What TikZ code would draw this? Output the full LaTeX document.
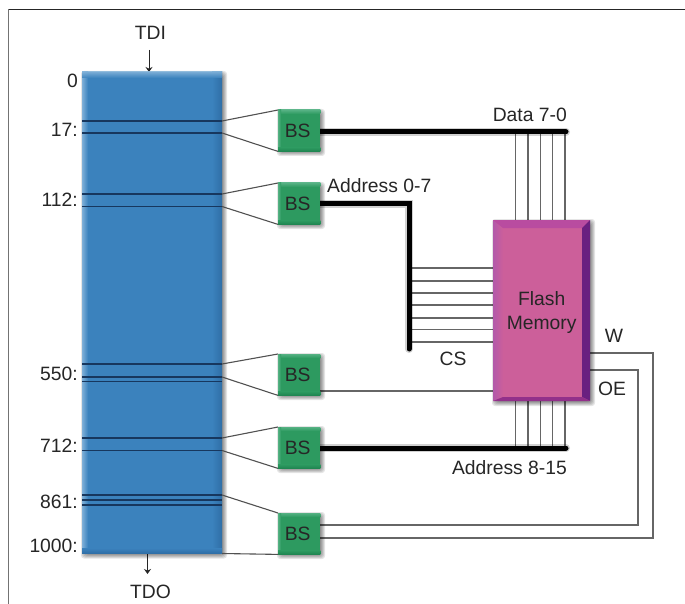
\documentclass[tikz,border=0pt]{standalone}
\usepackage{fontspec}
\setmainfont{Liberation Sans}
\usetikzlibrary{arrows.meta,calc}
\pgfdeclarelayer{front}
\pgfdeclarelayer{top}
\pgfsetlayers{main,front,top}
\definecolor{ink}{HTML}{262626}
\definecolor{wire}{HTML}{666666}
\definecolor{regblue}{HTML}{3B82BD}
\definecolor{regdark}{HTML}{2F6EA6}
\definecolor{reglight}{HTML}{7FB0D8}
\definecolor{stripeblue}{HTML}{17375E}
\definecolor{bsgreen}{HTML}{2D9A60}
\definecolor{bslight}{HTML}{55B183}
\definecolor{bsdark}{HTML}{1F8550}
\definecolor{flashpink}{HTML}{CC5F9A}
\definecolor{flashleft}{HTML}{B25AAA}
\definecolor{flashtop}{HTML}{B94CA0}
\definecolor{flashright}{HTML}{6A2080}
\definecolor{flashbot}{HTML}{92308A}
\newcommand{\softshadow}[4]{%
  \foreach \k in {0,1,2,3,4,5}{%
    \fill[black,opacity=.1,rounded corners=3pt]
      ({#1+4-\k},{#2+4-\k}) rectangle ({#3+\k},{#4+\k});
  }}
\tikzset{
  lbl/.style={inner sep=0pt,text=ink,font=\fontsize{19.3}{24}\selectfont},
  thinwire/.style={draw=wire,line width=1.3pt},
  fan/.style={draw=ink!80,line width=1.1pt},
  stripe/.style={draw=stripeblue,line width=1.3pt},
  busline/.style={draw=black,line width=5pt,line cap=round,line join=miter},
  busglow/.style={draw=black,opacity=.18,line width=8pt,line cap=round,line join=miter},
  flowarrow/.style={draw=ink,line width=1pt,-{Stealth[length=5pt,width=7pt]}},
  bsbox/.style={rectangle,fill=bsgreen,inner sep=0pt,minimum width=42pt,minimum height=41pt,anchor=north west},
}
\begin{document}
\begin{tikzpicture}[x=1pt,y=-1pt]
\useasboundingbox (0,0) rectangle (685,604);
\fill[white] (0,0) rectangle (685,604);
% frame
\draw[ink,line width=1pt] (8.5,9.5) -- (685,9.5);
\draw[gray!90!black,line width=1pt] (8.5,9.5) -- (8.5,604);

\begin{pgfonlayer}{front}
% register
\softshadow{82}{72}{222}{553.5}
\node[rectangle,fill=regblue,inner sep=0pt,minimum width=140pt,minimum height=481.5pt,anchor=north west] (reg) at (82,72) {};
\shade[left color=reglight,right color=regblue] (82,72) rectangle (88,553.5);
\shade[left color=regblue,right color=regdark] (212,72) rectangle (222,553.5);
\shade[top color=reglight,bottom color=regblue,opacity=.9] (82,72) rectangle (222,78);
\shade[top color=regblue,bottom color=regdark] (82,548) rectangle (222,553.5);
% BS cells
\foreach \nm/\yy in {bs1/110,bs2/183,bs3/354,bs4/427,bs5/513}{
  \softshadow{278}{\yy}{320}{\yy+41}
  \node[bsbox] (\nm) at (278,\yy) {};
}
% flash
\softshadow{493}{220}{590}{401}
\node[rectangle,fill=flashpink,inner sep=0pt,minimum width=97pt,minimum height=181pt,anchor=north west] (flash) at (493,220) {};
\shade[left color=flashleft,right color=flashpink] (493,220) -- (503,228) -- (503,397) -- (493,401) -- cycle;
\fill[flashtop] (493,220) -- (590,220) -- (582,228) -- (503,228) -- cycle;
\fill[flashright] (590,220) -- (590,401) -- (582,397) -- (582,228) -- cycle;
\fill[flashbot] (493,401) -- (590,401) -- (582,397) -- (503,397) -- cycle;
\node[lbl,align=center] (flashtext) at ($(flash.center)+(0,1.5)$) {Flash\\Memory};
\foreach \nm in {bs1,bs2,bs3,bs4,bs5}{
  \shade[top color=bslight,bottom color=bsgreen] (\nm.north west) rectangle ($(\nm.north east)+(0,4)$);
  \shade[left color=bslight,right color=bsgreen] (\nm.north west) rectangle ($(\nm.south west)+(3,0)$);
  \shade[top color=bsgreen,bottom color=bsdark] ($(\nm.south west)+(0,-4)$) rectangle (\nm.south east);
  \node[lbl] (\nm text) at ($(\nm.center)+(-1.5,0.5)$) {BS};
}
\end{pgfonlayer}

% stripe end points on the register's right edge
\coordinate (s1a) at (222,121);   \coordinate (s1b) at (222,133);
\coordinate (s2a) at (222,194);   \coordinate (s2b) at (222,206.5);
\coordinate (s3a) at (222,364);   \coordinate (s3b) at (222,377);  \coordinate (s3c) at (222,381.5);
\coordinate (s4a) at (222,438);   \coordinate (s4b) at (222,450.5);
\coordinate (s5a) at (222,495);   \coordinate (s5b) at (222,500);  \coordinate (s5c) at (222,505);
\coordinate (s5d) at (222,553.5);

\begin{pgfonlayer}{top}
\foreach \c in {s1a,s1b,s2a,s2b,s3a,s3b,s3c,s4a,s4b,s5a,s5b,s5c}{
  \draw[stripe] (\c -| reg.west) -- (\c);
}
\draw[fan] (s1a) -- (bs1.north west);
\draw[fan] (s1b) -- (bs1.south west);
\draw[fan] (s2a) -- (bs2.north west);
\draw[fan] (s2b) -- (bs2.south west);
\draw[fan] (s3a) -- (bs3.north west);
\draw[fan] (s3b) -- (bs3.south west);
\draw[fan] (s4a) -- (bs4.north west);
\draw[fan] (s4b) -- (bs4.south west);
\draw[fan] (s5a) -- (bs5.north west);
\draw[fan] (s5d) -- (bs5.south west);
\end{pgfonlayer}

% data and address buses
\coordinate (dataend) at (566,132);
\coordinate (addrcorner) at (409,204);
\coordinate (addrend) at (409,349);
\coordinate (hiend) at (566,448);
\foreach \i/\xx in {1/515.7,2/528,3/540.3,4/552.5,5/565}{
  \coordinate (d\i) at (\xx,132);
  \coordinate (e\i) at (\xx,448);
  \draw[thinwire] (d\i) -- (d\i |- flash.north);
  \draw[thinwire] (e\i) -- (e\i |- flash.south);
}
\foreach \i/\yy in {1/268,2/281,3/293,4/305,5/318,6/329.5,7/342}{
  \coordinate (a\i) at (409,\yy);
  \draw[thinwire] (a\i) -- (a\i -| flash.west);
}
\draw[busglow] (dataend -| bs1.east) -- (dataend);
\draw[busglow] (addrcorner -| bs2.east) -- (addrcorner) -- (addrend);
\draw[busglow] (hiend -| bs4.east) -- (hiend);
\draw[busline] (dataend -| bs1.east) -- (dataend);
\draw[busline] (addrcorner -| bs2.east) -- (addrcorner) -- (addrend);
\draw[busline] (hiend -| bs4.east) -- (hiend);

% control lines
\coordinate (cs) at (320,391);
\draw[thinwire] (cs) -- (cs -| flash.west);
\coordinate (wcorner) at (653,353);
\coordinate (oecorner) at (638,370);
\coordinate (bsw) at (320,538);
\coordinate (bsoe) at (320,525);
\draw[thinwire,line join=miter] (wcorner -| flash.east) -- (wcorner) -- (wcorner |- bsw) -- (bsw);
\draw[thinwire,line join=miter] (oecorner -| flash.east) -- (oecorner) -- (oecorner |- bsoe) -- (bsoe);

% scan path arrows
\coordinate (tdiin) at (149,50);
\coordinate (tdoout) at (147.5,574);
\draw[flowarrow] (tdiin) -- (tdiin |- reg.north);
\draw[flowarrow] (tdoout |- reg.south) -- (tdoout);

% labels
\node[lbl,anchor=base] (tdi) at (150.5,40) {TDI};
\node[lbl,anchor=base] (tdo) at (150.5,598) {TDO};
\node[lbl,anchor=base east] (n0) at (78,88) {0};
\node[lbl,anchor=base east] (n17) at (78,137) {17:};
\node[lbl,anchor=base east] (n112) at (78,207) {112:};
\node[lbl,anchor=base east] (n550) at (78,380) {550:};
\node[lbl,anchor=base east] (n712) at (78,452) {712:};
\node[lbl,anchor=base east] (n861) at (78,508) {861:};
\node[lbl,anchor=base east] (n1000) at (78,552) {1000:};
\node[lbl,anchor=base east] (ldata) at (567,122) {Data 7-0};
\node[lbl,anchor=base west] (laddr) at (327,193) {Address 0-7};
\node[lbl,anchor=base east] (lhi) at (567,474) {Address 8-15};
\node[lbl,anchor=base] (lcs) at (453,365) {CS};
\node[lbl,anchor=base] (lw) at (614,342) {W};
\node[lbl,anchor=base] (loe) at (612,395) {OE};
\end{tikzpicture}
\end{document}
